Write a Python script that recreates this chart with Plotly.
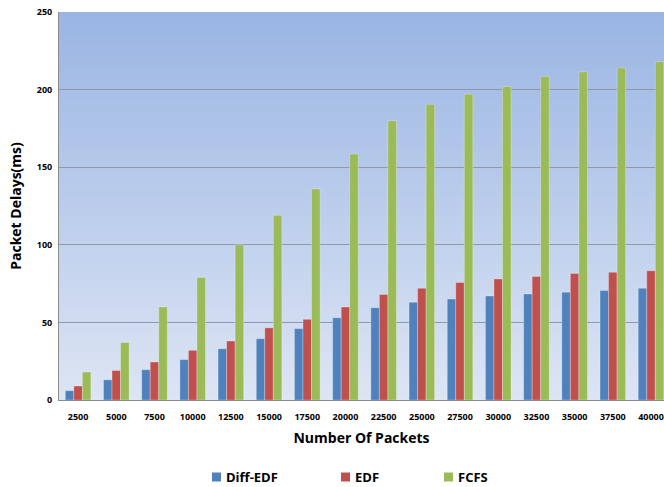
import plotly.graph_objects as go

categories = ["2500", "5000", "7500", "10000", "12500", "15000", "17500", "20000",
              "22500", "25000", "27500", "30000", "32500", "35000", "37500", "40000"]
diff_edf = [6, 13, 19.5, 26, 33, 39.5, 46, 53, 59.5, 63, 65, 67, 68.3, 69.5, 70.5, 72]
edf = [9, 19, 24.5, 32, 38, 46.5, 52, 60, 68, 72, 75.7, 78, 79.5, 81.5, 82.3, 83.3]
fcfs = [18, 37, 60, 79, 100, 119, 136, 158.5, 180, 190.5, 197, 202, 208.5, 211.5, 214, 218]

series_names = ["Diff-EDF", "EDF", "FCFS"]
series_colors = ["#4F81BD", "#C0504D", "#9BBB59"]
series_values = [diff_edf, edf, fcfs]

W, H = 664, 487
ML, MR, MT, MB = 59, 0, 12, 87
plot_w = W - ML - MR
plot_h = H - MT - MB

fig = go.Figure()
for name, vals, col in zip(series_names, series_values, series_colors):
    fig.add_trace(go.Bar(
        x=categories, y=vals, name=name,
        marker=dict(color=col, line=dict(color="rgba(255,255,255,0.35)", width=0.8)),
    ))

# gradient background (overlapping rects, no gaps)
shapes = []
n = 80
top = (154, 181, 227)
bot = (221, 229, 244)
for k in range(n):
    t = k / (n - 1)
    c = tuple(round(top[j] + (bot[j] - top[j]) * t) for j in range(3))
    shapes.append(dict(type="rect", xref="paper", yref="paper",
                       x0=0, x1=1, y0=0, y1=1 - k / n,
                       fillcolor=f"rgb{c}", line=dict(width=0), layer="below"))

font_main = "Open Sans"

# manual legend: squares + labels
legend_sq_px = [212, 341, 444]
annotations = []
sq = 9
yc_px = 477
for px, name, col in zip(legend_sq_px, series_names, series_colors):
    x0 = (px - ML) / plot_w
    x1 = (px + sq - ML) / plot_w
    y0 = (H - MB - (yc_px + sq / 2)) / plot_h
    y1 = (H - MB - (yc_px - sq / 2)) / plot_h
    shapes.append(dict(type="rect", xref="paper", yref="paper", x0=x0, x1=x1, y0=y0, y1=y1,
                       fillcolor=col, line=dict(width=0), layer="above"))
    annotations.append(dict(xref="paper", yref="paper", x=(px + sq + 3 - ML) / plot_w,
                            y=(H - MB - yc_px) / plot_h, xanchor="left", yanchor="middle",
                            text=name, showarrow=False,
                            font=dict(family=font_main, size=13, color="#000000", weight="bold")))

fig.update_layout(
    width=W, height=H,
    margin=dict(l=ML, r=MR, t=MT, b=MB, autoexpand=False),
    paper_bgcolor="white",
    plot_bgcolor="rgba(0,0,0,0)",
    barmode="group", bargap=0.33, bargroupgap=0,
    shapes=shapes,
    annotations=annotations,
    showlegend=False,
    xaxis=dict(
        type="category", range=[-0.5, 15.34],
        showgrid=False, showline=True, linecolor="#8C8C8C", linewidth=1,
        ticks="", ticklabelstandoff=8,
        tickfont=dict(family=font_main, size=9, color="#000000", weight="bold"),
        title=dict(text="Number Of Packets", standoff=11,
                   font=dict(family=font_main, size=14, color="#000000", weight="bold")),
    ),
    yaxis=dict(
        range=[0, 250], dtick=50, showgrid=True, gridcolor="#8D99AB", gridwidth=1,
        showline=True, linecolor="#8C8C8C", linewidth=1, zeroline=False,
        ticks="", ticklabelstandoff=4,
        tickfont=dict(family=font_main, size=9, color="#000000", weight="bold"),
        title=dict(text="Packet Delays(ms)", standoff=11,
                   font=dict(family=font_main, size=14, color="#000000", weight="bold")),
    ),
)

fig.write_html("out.html")
